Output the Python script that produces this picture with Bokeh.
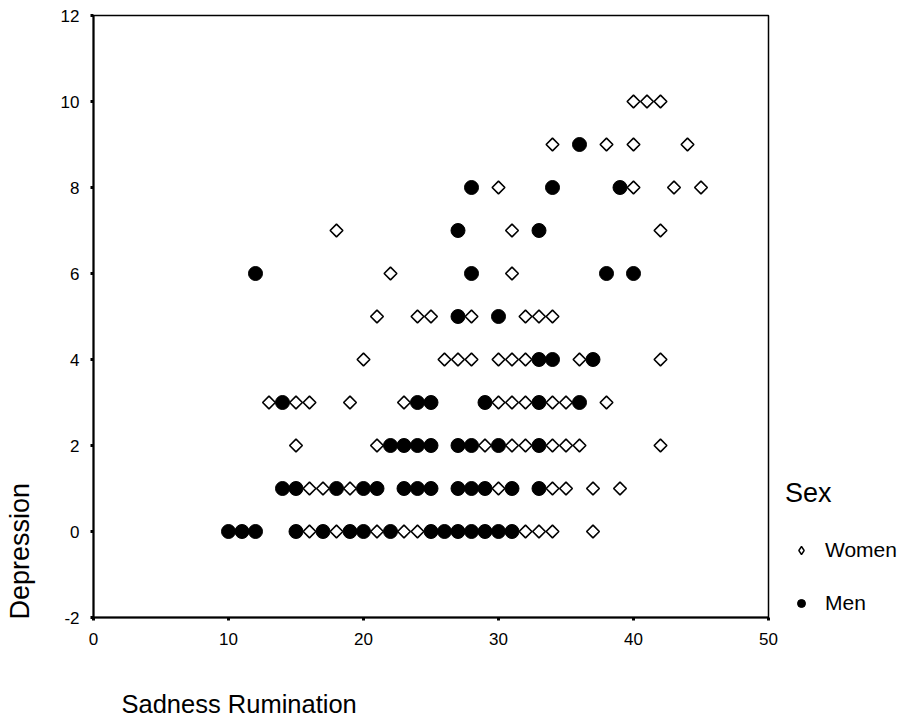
from bokeh.plotting import figure
from bokeh.models import Range1d, Legend, LegendItem, FixedTicker, Label
from bokeh.layouts import row, column
from bokeh.embed import file_html
from bokeh.resources import INLINE
import math

# Women (open diamonds): x = Sadness Rumination, y = Depression
women_x = [16, 18, 21, 23, 24, 32, 33, 34, 37,
           16, 17, 19, 30, 34, 35, 37, 39,
           15, 21, 29, 31, 32, 34, 35, 36, 42,
           13, 15, 16, 19, 23, 30, 31, 32, 34, 35, 38,
           20, 26, 27, 28, 30, 31, 32, 36, 42,
           21, 24, 25, 28, 32, 33, 34,
           22, 31,
           18, 31, 42,
           30, 40, 43, 45,
           34, 38, 40, 44,
           40, 41, 42]
women_y = [0] * 9 + [1] * 8 + [2] * 9 + [3] * 11 + [4] * 9 + [5] * 7 + [6] * 2 + [7] * 3 + [8] * 4 + [9] * 4 + [10] * 3

# Men (filled circles)
men_x = [10, 11, 12, 15, 17, 19, 20, 22, 25, 26, 27, 28, 29, 30, 31,
         14, 15, 18, 20, 21, 23, 24, 25, 27, 28, 29, 31, 33,
         22, 23, 24, 25, 27, 28, 30, 33,
         14, 24, 25, 29, 33, 36,
         33, 34, 37,
         27, 30,
         12, 28, 38, 40,
         27, 33,
         28, 34, 39,
         36]
men_y = [0] * 15 + [1] * 13 + [2] * 8 + [3] * 6 + [4] * 3 + [5] * 2 + [6] * 4 + [7] * 2 + [8] * 3 + [9] * 1

x_ticks = [0, 10, 20, 30, 40, 50]
y_ticks = [-2, 0, 2, 4, 6, 8, 10, 12]

x_title = "Sadness Rumination"
y_title = "Depression"
legend_title = "Sex"
series_names = ["Women", "Men"]

FONT = "Liberation Sans"
LEFT_W = 40
TOP_H = 662
BOTTOM_H = 723 - TOP_H


def blank_strip(w, h):
    f = figure(frame_width=w, frame_height=h, output_backend="svg", toolbar_location=None,
               x_range=Range1d(0, w), y_range=Range1d(h, 0),
               x_axis_type=None, y_axis_type=None,
               min_border_left=0, min_border_right=0, min_border_top=0, min_border_bottom=0)
    f.grid.visible = False
    f.outline_line_color = None
    f.background_fill_color = "white"
    f.border_fill_color = "white"
    return f


# main plot
p = figure(frame_width=675, frame_height=602, output_backend="svg", toolbar_location=None,
           x_range=Range1d(0, 50), y_range=Range1d(-2, 12),
           min_border_left=93 - LEFT_W, min_border_right=134,
           min_border_top=15, min_border_bottom=TOP_H - 15 - 602)

p.grid.visible = False
p.outline_line_color = "black"
p.outline_line_width = 1.5
p.background_fill_color = "white"
p.border_fill_color = "white"

for ax in (p.xaxis[0], p.yaxis[0]):
    ax.axis_line_color = "black"
    ax.axis_line_width = 2
    ax.major_tick_out = 3
    ax.major_tick_in = 0
    ax.major_tick_line_width = 3
    ax.minor_tick_line_color = None
    ax.major_label_text_font = FONT
    ax.major_label_text_font_size = "17px"
    ax.major_label_text_color = "black"
    ax.axis_label = None

p.xaxis[0].ticker = FixedTicker(ticks=x_ticks)
p.yaxis[0].ticker = FixedTicker(ticks=y_ticks)
p.yaxis[0].major_label_overrides = {-2: "-2"}
p.xaxis[0].major_label_standoff = 12
p.yaxis[0].major_label_standoff = 11

r_w = p.scatter(women_x, women_y, marker="square", size=9, angle=math.pi / 4,
                fill_color="white", line_color="black", line_width=1.6)
r_m = p.scatter(men_x, men_y, marker="circle", size=14,
                fill_color="black", line_color="black")

# legend-only glyphs (hidden renderers reusing the first data point)
lg_w = p.scatter(women_x[:1], women_y[:1], marker="diamond", size=12,
                 fill_color="white", line_color="black", line_width=1.4, visible=False)
lg_m = p.scatter(men_x[:1], men_y[:1], marker="circle", size=15,
                 fill_color="black", line_color="black", visible=False)

legend = Legend(items=[LegendItem(label=series_names[0], renderers=[lg_w]),
                       LegendItem(label=series_names[1], renderers=[lg_m])],
                title=legend_title, location=(17, 2),
                title_text_font=FONT, title_text_font_size="27px",
                title_text_font_style="normal", title_text_color="black",
                label_text_font=FONT, label_text_font_size="21px",
                label_text_color="black",
                border_line_color=None, background_fill_alpha=0,
                glyph_width=32, glyph_height=20, label_height=20,
                spacing=29, title_standoff=29, padding=0, margin=0,
                label_standoff=8)
p.add_layout(legend, "right")

# strip with the y-axis title
left = blank_strip(LEFT_W, TOP_H)
left.add_layout(Label(x=19, y=604, text=y_title, angle=math.pi / 2,
                      text_align="left", text_baseline="middle",
                      text_font=FONT, text_font_size="27px", text_color="black"))

# strip with the x-axis title (full width)
bottom = blank_strip(902, BOTTOM_H)
bottom.add_layout(Label(x=121, y=703 - TOP_H, text=x_title,
                        text_align="left", text_baseline="middle",
                        text_font=FONT, text_font_size="25.5px", text_color="black"))

layout = column(row(left, p, spacing=0), bottom, spacing=0)

open("out.html", "w").write(file_html(layout, INLINE))
